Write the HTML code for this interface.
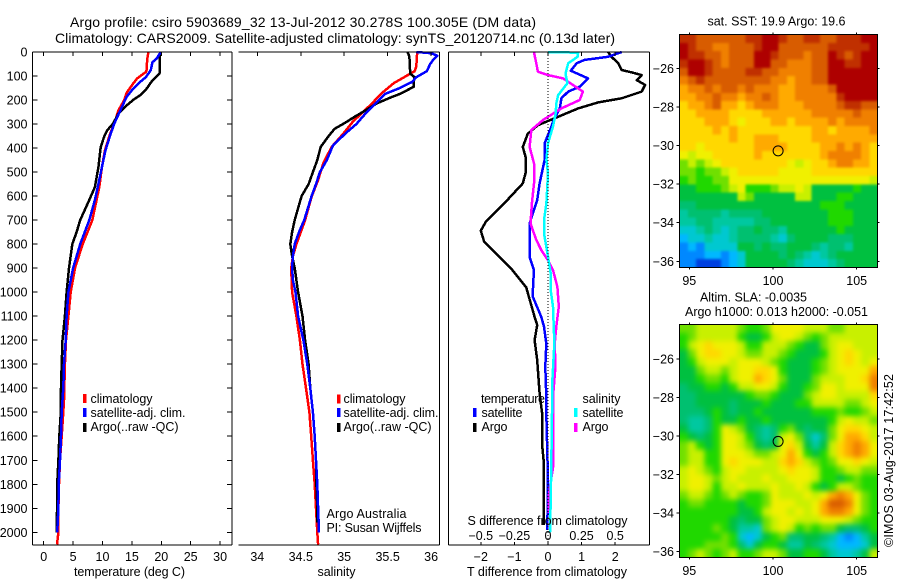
<!DOCTYPE html>
<html>
<head>
<meta charset="utf-8">
<title>Argo profile</title>
<style>
html,body{margin:0;padding:0;background:#fff;}
svg{display:block;}
text{font-family:"Liberation Sans",sans-serif;font-size:12.5px;fill:#000;}
</style>
</head>
<body>
<svg id="chart" xmlns="http://www.w3.org/2000/svg" width="900" height="580" viewBox="0 0 900 580">
<defs>
<filter id="sstSmooth" filterUnits="userSpaceOnUse" x="660" y="15" width="240" height="275" color-interpolation-filters="sRGB"><feGaussianBlur stdDeviation="1.3"/></filter>
<filter id="slaSmooth" filterUnits="userSpaceOnUse" x="660" y="305" width="240" height="275" color-interpolation-filters="sRGB"><feGaussianBlur stdDeviation="2.6"/></filter>
<clipPath id="sstClip"><rect x="679.5" y="34.5" width="198" height="233"/></clipPath>
<clipPath id="slaClip"><rect x="679.5" y="324.5" width="198" height="233"/></clipPath>
</defs>
<rect x="0" y="0" width="900" height="580" fill="#fff"/>
<text x="70" y="27" textLength="466" style="font-size:14px">Argo profile: csiro 5903689_32 13-Jul-2012 30.278S 100.305E (DM data)</text>
<text x="55" y="43" textLength="560" style="font-size:14px">Climatology: CARS2009. Satellite-adjusted climatology: synTS_20120714.nc (0.13d later)</text>

<g id="maps"></g>
<g id="series"></g>
<g id="axes" shape-rendering="crispEdges"></g>
<g id="labels"></g>

<text x="74" y="576" textLength="111">temperature (deg C)</text>
<text x="317.5" y="576" textLength="38">salinity</text>
<text x="467" y="576" textLength="160">T difference from climatology</text>
<text x="467.5" y="525" textLength="160">S difference from climatology</text>

<g shape-rendering="crispEdges">
<rect x="83" y="394" width="3.5" height="9" fill="#ff0000"/>
<rect x="83" y="408" width="3.5" height="9" fill="#0000ff"/>
<rect x="83" y="423" width="3.5" height="9" fill="#000"/>
</g>
<text x="90.5" y="403" textLength="62">climatology</text>
<text x="90.5" y="417" textLength="95">satellite-adj. clim.</text>
<text x="90.5" y="431" textLength="88">Argo(..raw -QC)</text>

<g shape-rendering="crispEdges">
<rect x="337" y="394.5" width="3.5" height="9" fill="#ff0000"/>
<rect x="337" y="408" width="3.5" height="9" fill="#0000ff"/>
<rect x="337" y="423" width="3.5" height="9" fill="#000"/>
</g>
<text x="343.5" y="403" textLength="62">climatology</text>
<text x="343.5" y="417" textLength="95">satellite-adj. clim.</text>
<text x="343.5" y="431" textLength="88">Argo(..raw -QC)</text>
<text x="326.5" y="518" textLength="80">Argo Australia</text>
<text x="326.5" y="532" textLength="95">PI: Susan Wijffels</text>

<g shape-rendering="crispEdges">
<rect x="473" y="408" width="3.5" height="9" fill="#0000ff"/>
<rect x="473" y="423" width="3.5" height="9" fill="#000"/>
<rect x="574" y="408" width="3.5" height="9" fill="#00ffff"/>
<rect x="574" y="423" width="3.5" height="9" fill="#ff00ff"/>
</g>
<text x="481" y="403" textLength="64">temperature</text>
<text x="582.5" y="403" textLength="38">salinity</text>
<text x="481.5" y="417" textLength="41">satellite</text>
<text x="481.5" y="431" textLength="26">Argo</text>
<text x="582.5" y="417" textLength="41">satellite</text>
<text x="582.5" y="431" textLength="26">Argo</text>

<text x="707.5" y="25.5" textLength="138">sat. SST: 19.9 Argo: 19.6</text>
<text x="700" y="301.5" textLength="107">Altim. SLA: -0.0035</text>
<text x="685" y="316" textLength="183">Argo h1000: 0.013 h2000: -0.051</text>
<text transform="translate(893,547) rotate(-90)" x="0" y="0" textLength="173">©IMOS 03-Aug-2017 17:42:52</text>
</svg>

<script>
// Temperature profiles (depth in m, temperature in deg C)
var tempClimDepth = [0,30,75,83,110,132,170,200,243,298,340,410,480,562,616,700,800,900,1000,1100,1200,1300,1450,1500,1600,1700,1800,1900,2000,2050];
var tempClimValue = [17.8,17.6,17.5,17.4,15.9,15.2,14.1,13.7,12.7,12.0,11.3,10.4,9.9,9.45,9.0,8.27,6.63,5.32,4.6,4.2,3.8,3.6,3.45,3.33,3.06,2.77,2.6,2.5,2.5,2.26];
var tempSatDepth = [0,28,42,76,104,125,153,187,229,298,340,410,480,562,616,700,800,900,1000,1100,1200,1300,1400,1500,1600,1700,1800,1900,2000];
var tempSatValue = [19.9,19.2,18.5,18.2,17.4,16.4,15.2,14.1,13.3,12.0,11.4,10.5,9.9,9.2,8.7,7.76,6.2,5.0,4.2,3.9,3.74,3.45,3.33,3.06,2.94,2.77,2.55,2.5,2.3];
var tempArgoDepth = [0,90,118,153,180,200,229,257,298,326,354,396,480,562,616,700,750,800,900,1000,1100,1200,1300,1400,1500,1600,1700,1800,1900,1950,2000];
var tempArgoValue = [19.8,19.7,18.5,17.5,16.4,15.2,13.8,12.7,11.8,10.8,10.25,9.7,9.3,8.7,7.76,6.2,5.6,4.87,4.3,3.9,3.6,3.2,3.06,2.94,2.9,2.65,2.5,2.3,2.3,2.2,2.2];

// Salinity profiles
var salClimDepth = [0,60,80,103,130,172,214,249,290,340,395,464,533,603,700,750,800,850,900,1000,1100,1200,1300,1400,1450,1500,1600,1700,1800,1900,2000,2050];
var salClimValue = [35.84,35.83,35.81,35.70,35.57,35.43,35.32,35.22,35.10,34.99,34.855,34.76,34.70,34.625,34.55,34.5,34.45,34.41,34.39,34.40,34.45,34.49,34.52,34.56,34.58,34.6,34.62,34.64,34.66,34.675,34.69,34.70];
var salSatDepth = [0,5,15,30,50,80,105,125,150,175,210,250,300,340,390,450,500,550,600,700,750,800,850,900,950,1000,1100,1200,1300,1400,1500,1600,1700,1800,1900,2000];
var salSatValue = [35.83,36.0,36.07,36.03,35.99,35.95,35.83,35.78,35.64,35.47,35.37,35.26,35.14,35.01,34.87,34.8,34.72,34.675,34.625,34.54,34.48,34.43,34.41,34.40,34.41,34.44,34.47,34.53,34.575,34.61,34.64,34.66,34.675,34.69,34.70,34.71];
var salArgoDepth = [0,20,90,105,125,145,160,175,190,215,240,270,295,320,350,395,450,500,550,600,650,700,750,800,850,900,1000,1100,1200,1300,1400,1500,1600,1700,1800,1900,1960];
var salArgoValue = [35.73,35.75,35.76,35.81,35.8,35.8,35.72,35.64,35.53,35.37,35.26,35.12,35.01,34.89,34.82,34.73,34.69,34.64,34.59,34.51,34.47,34.43,34.40,34.38,34.40,34.43,34.47,34.52,34.55,34.59,34.61,34.64,34.66,34.675,34.68,34.69,34.69];

// Temperature differences from climatology (deg C)
var dTempArgoDepth = [0,20,47,75,85,96,117,137,165,193,210,235,270,305,340,395,436,505,547,630,672,707,744,790,867,901,980,1103,1137,1200,1283,1422,1500,1630,1700,1800,1970];
var dTempArgoValue = [1.79,1.89,2.09,2.19,2.49,2.79,2.64,2.89,2.79,2.19,1.49,0.9,0.3,-0.3,-0.6,-0.75,-0.67,-0.67,-0.75,-1.3,-1.6,-1.85,-2.0,-1.9,-1.35,-1.1,-0.65,-0.4,-0.32,-0.4,-0.32,-0.25,-0.18,-0.18,-0.13,-0.12,-0.13];
var dTempSatDepth = [0,20,33,47,78,110,144,165,193,235,290,318,380,450,547,617,714,853,908,992,1020,1103,1144,1214,1311,1436,1505,1783,1990];
var dTempSatValue = [2.19,1.79,1.09,0.85,0.68,1.19,0.95,0.6,0.4,0.35,0.15,0.08,-0.1,-0.1,-0.25,-0.32,-0.55,-0.55,-0.42,-0.45,-0.45,-0.2,-0.12,-0.05,-0.08,-0.05,-0.05,0,-0.02];

// Salinity differences from climatology (psu)
var dSalArgoDepth = [0,47,82,96,110,165,200,235,283,325,395,464,547,630,714,783,825,867,908,978,1061,1144,1214,1311,1436,1650,1730,1845,1920];
var dSalArgoValue = [-0.105,-0.087,-0.075,0,0.112,0.26,0.236,0.1,-0.037,-0.124,-0.137,-0.104,-0.104,-0.12,-0.13,-0.087,-0.05,0,0.037,0.07,0.08,0.062,0.05,0.055,0.037,0.037,0.037,0.005,0.005];
var dSalSatDepth = [0,3,20,47,90,130,180,214,256,310,380,450,505,630,700,755,853,922,992,1061,1172,1242,1394,1505,1686,1867,2000];
var dSalSatValue = [0,0.224,0.22,0.15,0.13,0.144,0.075,0.062,0.057,0.037,0,-0.012,0,-0.012,-0.03,-0.03,0,0.02,0.02,0.037,0.045,0.045,0.03,0.03,0.025,0.02,0.015];

// Tick labels
var depthTicks = [0,100,200,300,400,500,600,700,800,900,1000,1100,1200,1300,1400,1500,1600,1700,1800,1900,2000];
var tempTicks = [0,5,10,15,20,25,30];
var salTicks = [34,34.5,35,35.5,36];
var dTempTicks = [-2,-1,0,1,2];
var dSalTicks = [-0.5,-0.25,0,0.25,0.5];
var lonTicks = [95,100,105];
var latTicks = [-26,-28,-30,-32,-34,-36];

// Argo float position
var floatLon = [100.305];
var floatLat = [-30.278];

// Satellite SST map, colour level per cell (0 warmest .. 16 coolest), north to south
var sstLevels = [
[1,1,2,2,2,2,2,2,1,1,0,0,1,2,2,1,1,2,2,1,1,1,0,0],
[0,1,2,2,3,3,2,2,2,1,0,0,2,2,2,2,2,2,1,1,1,1,1,0],
[0,1,1,2,2,3,2,2,2,0,0,1,2,2,2,3,2,2,0,1,2,1,0,0],
[1,0,0,1,2,3,2,2,2,0,0,2,2,3,3,3,2,2,0,0,1,1,0,0],
[2,0,0,1,2,2,2,2,1,1,2,2,3,3,3,3,2,2,0,0,0,0,0,0],
[3,2,1,2,2,2,2,2,2,2,2,3,3,4,3,3,2,2,0,0,0,0,0,0],
[4,3,3,2,3,2,2,3,2,3,3,3,4,4,3,3,3,3,2,0,0,0,0,0],
[4,4,3,3,2,3,3,4,3,3,2,3,4,4,3,3,3,3,3,1,0,0,0,0],
[5,4,4,3,2,4,4,5,4,3,3,3,4,4,4,3,3,3,3,2,1,1,2,2],
[5,5,4,4,4,4,5,5,5,5,4,4,4,4,4,4,3,3,3,3,3,2,3,3],
[5,5,5,4,4,4,5,6,5,5,5,4,4,5,4,4,4,4,3,4,3,3,3,3],
[5,5,5,5,4,5,4,5,5,5,5,5,5,5,5,5,4,4,5,4,4,4,4,3],
[5,5,5,5,5,5,4,5,5,4,4,4,5,5,5,5,4,4,4,4,4,4,4,4],
[5,5,6,5,5,5,5,5,5,4,4,4,4,5,5,5,5,4,4,3,4,3,4,5],
[6,7,6,6,5,5,5,5,5,4,5,5,5,5,5,5,5,4,3,3,3,3,4,5],
[8,7,8,7,6,5,5,5,5,5,5,5,5,6,7,6,5,5,4,3,3,4,4,5],
[8,8,9,8,8,7,6,5,5,5,5,5,6,6,6,6,5,5,5,5,5,5,5,5],
[9,8,9,9,8,8,6,6,6,6,6,6,6,6,6,6,6,6,6,6,6,6,6,7],
[10,10,9,9,9,8,7,6,9,9,9,8,7,7,6,7,10,10,10,10,10,9,10,10],
[10,10,10,10,10,10,10,7,8,10,10,10,10,10,7,7,10,10,10,9,9,10,10,10],
[11,11,10,10,10,10,10,10,10,10,10,10,10,10,10,10,10,9,9,9,10,10,10,10],
[12,11,11,11,11,12,11,11,11,11,10,10,10,10,10,10,10,10,9,9,9,10,10,10],
[12,12,11,11,12,12,12,12,12,11,11,10,10,10,10,10,10,10,9,9,9,10,10,10],
[13,13,12,11,12,13,12,11,11,10,11,11,12,10,10,10,10,10,10,9,10,10,10,10],
[14,13,13,12,13,13,12,11,11,11,11,12,13,11,10,10,10,10,11,11,11,10,10,10],
[15,14,15,13,13,13,13,10,10,11,10,11,11,10,10,10,11,12,11,11,12,10,10,10],
[15,15,15,14,14,15,14,13,10,10,10,10,11,10,11,12,13,12,11,10,10,10,10,10],
[15,15,16,16,16,15,14,13,10,10,10,10,10,11,12,13,13,13,12,11,10,10,10,10]
];

// Altimeter SLA map, colour level per cell (0 highest .. 16 lowest), north to south
var slaLevels = [
[8,8,7,7,7,7,7,8,9,9,8,6,6,6,6,7,7,7,8,8,7,7,7,7],
[9,8,7,7,7,7,7,9,10,10,9,7,6,6,7,8,9,8,7,7,7,7,7,7],
[9,7,6,5,6,6,6,7,9,9,7,7,7,8,9,10,10,8,7,6,6,7,7,7],
[10,8,6,5,5,6,6,7,8,8,7,7,8,9,10,10,10,9,7,6,5,6,7,7],
[10,9,7,6,6,6,7,6,6,6,7,8,9,10,10,10,9,8,7,6,5,6,7,6],
[10,10,8,7,7,8,7,6,6,5,5,6,9,10,10,10,9,8,7,6,6,6,6,4],
[10,10,9,8,8,9,7,6,6,4,5,6,8,10,10,10,8,7,7,7,6,6,5,3],
[11,10,10,9,9,10,9,7,7,6,6,7,9,10,10,9,8,6,6,7,6,6,6,3],
[11,11,10,10,10,10,10,10,9,8,8,9,10,10,10,8,7,6,6,7,7,7,7,5],
[11,11,10,10,10,10,11,10,10,10,9,10,10,10,9,9,7,7,7,7,8,8,7,6],
[11,11,11,10,9,10,11,10,10,9,10,10,10,10,10,10,9,9,9,8,9,9,8,7],
[11,12,12,11,9,10,10,9,10,10,9,10,10,10,10,10,10,10,9,7,6,7,7,8],
[10,12,12,11,9,6,7,8,10,11,12,11,9,8,10,11,10,10,8,6,5,5,6,7],
[9,10,11,10,9,6,6,7,9,11,12,11,7,6,8,11,13,11,8,6,4,4,5,7],
[8,7,9,10,9,6,6,7,8,10,11,10,6,5,7,10,12,10,7,5,4,3,4,6],
[8,7,7,9,9,6,6,6,7,8,8,7,6,4,6,9,10,9,7,5,4,3,4,6],
[8,7,7,9,9,6,5,6,6,6,7,7,5,4,5,7,8,9,8,6,6,5,6,7],
[7,6,7,8,9,7,6,6,7,7,7,7,6,5,6,6,7,9,9,8,7,7,8,8],
[7,6,6,7,8,7,6,7,7,7,6,7,7,6,6,6,7,9,9,10,9,8,9,9],
[7,6,6,7,9,7,7,6,7,7,7,6,7,7,6,7,9,10,9,7,7,8,9,9],
[8,7,7,8,9,8,7,8,9,9,8,6,7,7,7,6,7,6,4,3,4,6,8,9],
[9,8,8,9,9,9,9,10,9,9,8,6,6,6,7,7,6,4,2,2,3,6,8,9],
[9,9,9,9,9,9,9,10,10,9,7,6,6,7,6,7,6,4,3,3,4,6,8,9],
[9,9,9,9,9,9,10,11,10,10,8,7,6,6,7,7,7,6,6,6,7,8,9,9],
[9,9,9,9,8,9,10,12,12,13,8,7,6,7,9,8,9,8,8,10,11,11,10,9],
[9,9,9,9,9,8,9,13,14,13,10,9,8,11,11,10,10,11,12,14,15,14,12,10],
[9,9,9,8,8,8,9,11,13,10,9,9,10,12,12,10,11,12,13,14,14,14,13,10],
[9,8,7,8,9,8,7,9,9,8,7,7,8,10,10,9,9,10,12,13,13,12,10,7]
];

var levelPalette = ['#ae0000','#c03000','#d85c00','#f08000','#ffaa00','#ffd800','#f0f000','#c8f000','#70e000','#20d800','#00c040','#00c070','#00c8a0','#00c8d0','#00b8ff','#0088ff','#0040e0'];

var SVGNS = 'http://www.w3.org/2000/svg';
var layerMaps = document.getElementById('maps');
var layerSeries = document.getElementById('series');
var layerAxes = document.getElementById('axes');
var layerLabels = document.getElementById('labels');

function yDepth(d){ return 52 + d * 0.24015; }
function xTemp(v){ return 43.7 + v * 5.88; }
function xSal(v){ return 257.3 + (v - 34) * 86.9; }
function xDiffT(v){ return 548 + v * 33.6; }
function xDiffS(v){ return 548 + v * 134.4; }
function mapX(lon){ return 689.3 + (lon - 95) * 16.74; }
function sstY(lat){ return 68.3 + (-26 - lat) * 19.3; }
function slaY(lat){ return 359 + (-26 - lat) * 19.27; }

function line(parent, x1, y1, x2, y2, name){
  var el = document.createElementNS(SVGNS, 'line');
  el.setAttribute('x1', x1);
  el.setAttribute('y1', y1);
  el.setAttribute('x2', x2);
  el.setAttribute('y2', y2);
  el.setAttribute('stroke', '#000');
  el.setAttribute('stroke-width', 1);
  
  
  parent.appendChild(el);
  return el;
}
function label(str, x, y, anchor, name){
  var el = document.createElementNS(SVGNS, 'text');
  el.setAttribute('x', x);
  el.setAttribute('y', y);
  el.setAttribute('text-anchor', anchor);
  el.textContent = str;
  
  
  layerLabels.appendChild(el);
}
function fmt(v){ return String(v).replace('-', '\u2212'); }

function profile(depths, values, xFn, color, width, name){
  var d = '';
  for (var i = 0; i < depths.length; i++) {
    d += (i ? 'L' : 'M') + xFn(values[i]).toFixed(1) + ' ' + yDepth(depths[i]).toFixed(1);
  }
  var el = document.createElementNS(SVGNS, 'path');
  el.setAttribute('d', d);
  el.setAttribute('fill', 'none');
  el.setAttribute('stroke', color);
  el.setAttribute('stroke-width', width);
  el.setAttribute('stroke-linejoin', 'round');
  el.setAttribute('shape-rendering', 'crispEdges');
  
  
  layerSeries.appendChild(el);
}

// Series, back to front
profile(tempClimDepth, tempClimValue, xTemp, '#ff0000', 2.5, 'temperature-climatology-line');
profile(tempArgoDepth, tempArgoValue, xTemp, '#000000', 2.5, 'temperature-argo-line');
profile(tempSatDepth, tempSatValue, xTemp, '#0000ff', 2.5, 'temperature-satellite-line');
profile(salClimDepth, salClimValue, xSal, '#ff0000', 2.5, 'salinity-climatology-line');
profile(salArgoDepth, salArgoValue, xSal, '#000000', 2.5, 'salinity-argo-line');
profile(salSatDepth, salSatValue, xSal, '#0000ff', 2.5, 'salinity-satellite-line');
profile(dTempArgoDepth, dTempArgoValue, xDiffT, '#000000', 2.5, 'difference-temperature-argo-line');
profile(dTempSatDepth, dTempSatValue, xDiffT, '#0000ff', 2.5, 'difference-temperature-satellite-line');
profile(dSalArgoDepth, dSalArgoValue, xDiffS, '#ff00ff', 2.5, 'difference-salinity-argo-line');
profile(dSalSatDepth, dSalSatValue, xDiffS, '#00ffff', 2.5, 'difference-salinity-satellite-line');

// Panel frames
var P1L = 32.5, P1R = 232, P2L = 238.5, P2R = 439.5, P3L = 448.5, P3R = 649.5, TOP = 52, BOT = 545;
line(layerAxes, P1L, TOP, P1R, TOP, 'temperature-panel-top-axis');
line(layerAxes, P1L, BOT, P1R, BOT, 'temperature-panel-bottom-axis');
line(layerAxes, P1L, TOP, P1L, BOT, 'depth-axis');
line(layerAxes, P1R, TOP, P1R, BOT, 'temperature-panel-right-axis');
line(layerAxes, P2L, TOP, P2R, TOP, 'salinity-panel-top-axis');
line(layerAxes, P2L, BOT, P2R, BOT, 'salinity-panel-bottom-axis');
line(layerAxes, P2R, TOP, P2R, BOT, 'salinity-panel-right-axis');
line(layerAxes, P3L, TOP, P3R, TOP, 'difference-panel-top-axis');
line(layerAxes, P3L, BOT, P3R, BOT, 'difference-panel-bottom-axis');
line(layerAxes, P3L, TOP, P3L, BOT, 'difference-panel-left-axis');
line(layerAxes, P3R, TOP, P3R, BOT, 'difference-panel-right-axis');

var zeroLine = line(layerAxes, xDiffT(0), TOP, xDiffT(0), BOT, 'zero-difference-line');
zeroLine.setAttribute('stroke-dasharray', '1 2');

depthTicks.forEach(function(d){
  var y = yDepth(d);
  line(layerAxes, P1L, y, P1L + 5, y, 'depth-tick');
  line(layerAxes, P1R - 5, y, P1R, y, 'depth-tick-right');
  label(String(d), 27.5, y + 4.5, 'end', 'depth-tick-label');
});
tempTicks.forEach(function(v){
  var x = xTemp(v);
  line(layerAxes, x, TOP, x, TOP + 4, 'temperature-tick-top');
  line(layerAxes, x, BOT - 4, x, BOT, 'temperature-tick-bottom');
  label(String(v), x, 561, 'middle', 'temperature-tick-label');
});
salTicks.forEach(function(v){
  var x = xSal(v);
  line(layerAxes, x, TOP, x, TOP + 4, 'salinity-tick');
  label(String(v), x, 561, 'middle', 'salinity-tick-label');
});
dTempTicks.forEach(function(v){
  var x = xDiffT(v);
  line(layerAxes, x, TOP, x, TOP + 4, 'difference-tick-top');
  line(layerAxes, x, BOT - 3, x, BOT, 'difference-tick-bottom');
  label(fmt(v), x, 561, 'middle', 'temperature-difference-tick-label');
});
dSalTicks.forEach(function(v){
  label(fmt(v), xDiffS(v), 540, 'middle', 'salinity-difference-tick-label');
});

// Maps
function drawMap(levels, left, top, width, height, yFn, labelY, clipId, filterId, groupName){
  var rows = levels.length, cols = levels[0].length;
  var cw = width / cols, ch = height / rows;
  var bleed = 10;
  var clipGroup = document.createElementNS(SVGNS, 'g');
  clipGroup.setAttribute('clip-path', 'url(#' + clipId + ')');
  
  
  layerMaps.appendChild(clipGroup);
  var blurGroup = document.createElementNS(SVGNS, 'g');
  blurGroup.setAttribute('filter', 'url(#' + filterId + ')');
  
  
  clipGroup.appendChild(blurGroup);
  for (var r = 0; r < rows; r++) {
    for (var c = 0; c < cols; c++) {
      var x0 = left + c * cw, y0 = top + r * ch, x1 = x0 + cw + 0.5, y1 = y0 + ch + 0.5;
      if (c === 0) x0 -= bleed;
      if (r === 0) y0 -= bleed;
      if (c === cols - 1) x1 += bleed;
      if (r === rows - 1) y1 += bleed;
      var cell = document.createElementNS(SVGNS, 'rect');
      cell.setAttribute('x', x0.toFixed(2));
      cell.setAttribute('y', y0.toFixed(2));
      cell.setAttribute('width', (x1 - x0).toFixed(2));
      cell.setAttribute('height', (y1 - y0).toFixed(2));
      cell.setAttribute('fill', levelPalette[levels[r][c]]);
      cell.setAttribute('shape-rendering', 'crispEdges');
      
      
      blurGroup.appendChild(cell);
    }
  }
  var frame = document.createElementNS(SVGNS, 'rect');
  frame.setAttribute('x', left);
  frame.setAttribute('y', top);
  frame.setAttribute('width', width);
  frame.setAttribute('height', height);
  frame.setAttribute('fill', 'none');
  frame.setAttribute('stroke', '#000');
  frame.setAttribute('shape-rendering', 'crispEdges');
  
  
  layerAxes.appendChild(frame);

  lonTicks.forEach(function(lon){
    var x = mapX(lon);
    line(layerAxes, x, top - 2, x, top, 'map-lon-tick-top');
    line(layerAxes, x, top + height, x, top + height + 2, 'map-lon-tick-bottom');
    label(String(lon), x, labelY, 'middle', 'map-longitude-label');
  });
  latTicks.forEach(function(lat){
    var y = yFn(lat);
    line(layerAxes, left - 3, y, left, y, 'map-lat-tick-left');
    line(layerAxes, left + width, y, left + width + 2, y, 'map-lat-tick-right');
    label(fmt(lat), 674, y + 4.5, 'end', 'map-latitude-label');
  });
  var marker = document.createElementNS(SVGNS, 'circle');
  marker.setAttribute('cx', mapX(floatLon[0]));
  marker.setAttribute('cy', yFn(floatLat[0]));
  marker.setAttribute('r', 5);
  marker.setAttribute('fill', 'none');
  marker.setAttribute('stroke', '#000');
  marker.setAttribute('stroke-width', 1);
  
  
  layerLabels.appendChild(marker);
}
drawMap(sstLevels, 679.5, 34.5, 198, 233, sstY, 285, 'sstClip', 'sstSmooth', 'sst-map');
drawMap(slaLevels, 679.5, 324.5, 198, 233, slaY, 575, 'slaClip', 'slaSmooth', 'sla-map');
</script>
</body>
</html>
